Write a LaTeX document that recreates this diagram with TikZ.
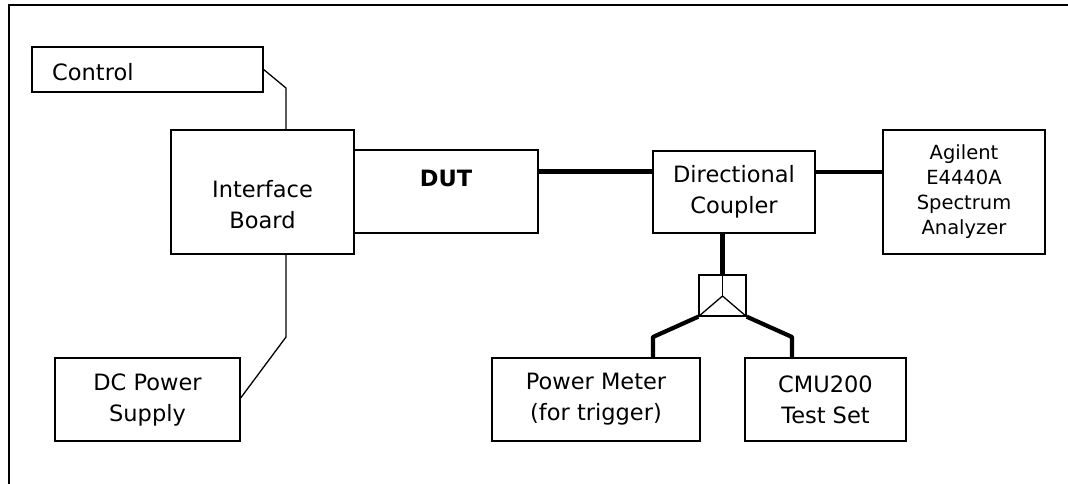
\documentclass[tikz,border=0pt]{standalone}
\usepackage{fontspec}
\setmainfont{DejaVu Sans}
\usetikzlibrary{calc}
\begin{document}
\begin{tikzpicture}[x=1pt,y=-1pt,
  box/.style={draw, line width=1.3pt, inner sep=0pt, minimum width=#1},
  thin/.style={line width=1.3pt},
  thick/.style={line width=4.2pt},
  txt/.style={font=\fontsize{22.5}{31}\selectfont, align=center, inner sep=0pt},
  smalltxt/.style={font=\fontsize{19.5}{25}\selectfont, align=center, inner sep=0pt}]
\useasboundingbox (0,0) rectangle (1068,483);
\draw[line width=2pt] (1070,5) -- (9,5) -- (9,485);
% boxes
\node[box=231, minimum height=45] (ctrl) at (147.5,69.5) {};
\node[txt, anchor=west] (ctrltext) at (52,72) {Control};
\node[box=183, minimum height=124] (ib) at (262.5,192) {};
\node[txt] (ibtext) at (262.5,205) {Interface\\Board};
\node[box=184, minimum height=83] (dut) at (446,191.5) {};
\node[txt, font=\fontsize{22.5}{31}\selectfont\bfseries] (duttext) at (446,178) {DUT};
\node[box=162, minimum height=82, txt] (dc) at (734,192) {Directional\\Coupler};
\node[box=162, minimum height=124, smalltxt] (sa) at (964,192) {Agilent\\E4440A\\Spectrum\\Analyzer};
\node[box=47, minimum height=41] (split) at (722.5,295.5) {};
\node[box=208, minimum height=83, txt] (pm) at (596,399.5) {Power Meter\\(for trigger)};
\node[box=161, minimum height=83, txt] (cmu) at (825.5,399.5) {CMU200\\Test Set};
\node[box=185, minimum height=83, txt] (dcps) at (147.5,399.5) {DC Power\\Supply};
% helper coordinates
\coordinate (cx) at (286,0);
\coordinate (ctrlk) at (286,88);
\coordinate (dcpsk) at (286,337);
\coordinate (dcpsin) at ($(dcps.east)+(0,-1.5)$);
\coordinate (dutout) at ($(dut.east)+(0,-20)$);
\coordinate (dcout) at ($(dc.east)+(0,-20)$);
\coordinate (splitc) at (722.5,296);
\coordinate (pmk) at (653,337);
\coordinate (cmuk) at (792,337);
% thin connectors
\draw[thin] (ctrl.east) -- (ctrlk) -- (ib.north -| cx);
\draw[thin] (ib.south -| cx) -- (dcpsk) -- (dcpsin);
% thick connectors
\draw[thick] (dutout) -- (dutout -| dc.west);
\draw[thick] (dcout) -- (dcout -| sa.west);
\draw[thick] (split.north) -- (split.north |- dc.south);
\draw[thick, line join=round] (split.south west) -- (pmk) -- (pmk |- pm.north);
\draw[thick, line join=round] (split.south east) -- (cmuk) -- (cmuk |- cmu.north);
% splitter internals
\draw[thin] (split.north) -- (splitc);
\draw[thin] (split.south west) -- (splitc) -- (split.south east);
\end{tikzpicture}
\end{document}
